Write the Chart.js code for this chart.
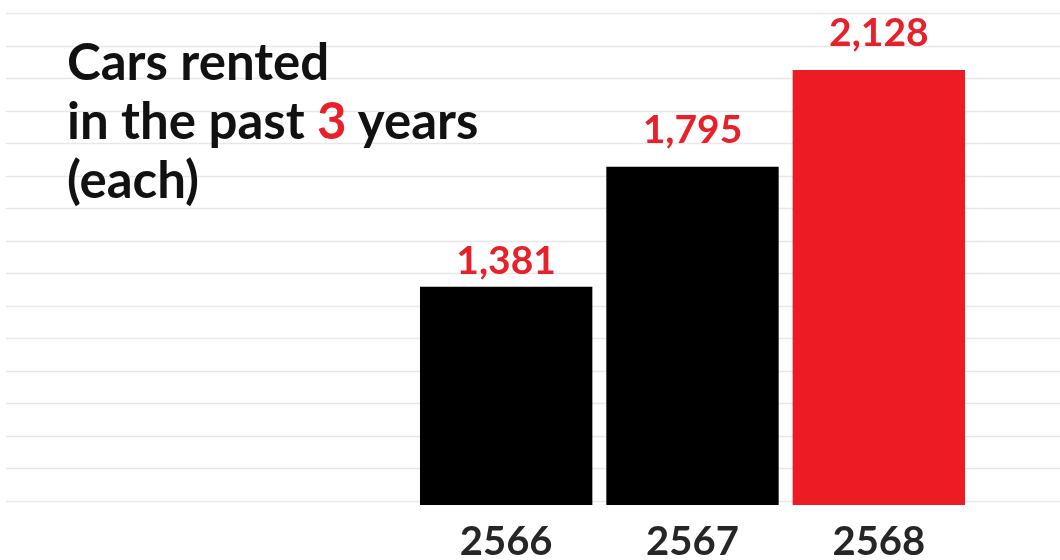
<!DOCTYPE html>
<html>
<head>
<meta charset="utf-8">
<script src="https://cdn.jsdelivr.net/npm/chart.js@4/dist/chart.umd.min.js"></script>
<style>
  html, body { margin: 0; padding: 0; background: #fff; }
  #wrap { position: relative; width: 1060px; height: 560px; }
  #titulo {
    position: absolute; left: 67px; top: 31px;
    font-family: Lato, sans-serif; font-weight: 700; font-size: 51px;
    line-height: 59px; color: #111; pointer-events: none;
  }
  #titulo .red { color: #e8202a; }
</style>
</head>
<body>
<div id="wrap">
  <canvas id="grafico" width="1060" height="560"></canvas>
  <div id="titulo">Cars rented<br>in the past <span class="red">3</span> years<br>(each)</div>
</div>
<script>
const anos = ['2566', '2567', '2568'];
const carros = [1381, 1795, 2128];
const coresBarras = ['#000000', '#000000', '#ed1c24'];
const linhasFundo = [0, 1, 2, 3, 4, 5, 6, 7, 8, 9, 10, 11, 12, 13, 14, 15];

const graficoEl = document.getElementById('grafico');

// linhas claras de fundo, de ponta a ponta da pagina
const linhasPlugin = {
  id: 'linhas',
  beforeDatasetsDraw(chart) {
    const ctx = chart.ctx;
    const escala = chart.scales.yGrade;
    ctx.save();
    ctx.strokeStyle = '#e8e8e8';
    ctx.lineWidth = 1.5;
    escala.ticks.forEach(t => {
      const y = Math.round(escala.getPixelForValue(t.value)) + 0.5;
      ctx.beginPath();
      ctx.moveTo(6, y);
      ctx.lineTo(chart.width, y);
      ctx.stroke();
    });
    ctx.restore();
  }
};

// numeros vermelhos em cima das barras
const rotulosPlugin = {
  id: 'rotulos',
  afterDatasetsDraw(chart) {
    const ctx = chart.ctx;
    const desloc = [13, 24, 24];
    ctx.save();
    ctx.font = 'bold 39px Lato';
    ctx.fillStyle = '#e8202a';
    ctx.textAlign = 'center';
    ctx.textBaseline = 'alphabetic';
    chart.getDatasetMeta(0).data.forEach((barra, i) => {
      ctx.fillText(carros[i].toLocaleString('en-US'), barra.x, barra.y - desloc[i]);
    });
    ctx.restore();
  }
};

new Chart(graficoEl, {
  type: 'bar',
  data: {
    labels: anos,
    datasets: [{
      data: carros,
      backgroundColor: coresBarras,
      categoryPercentage: 1,
      barPercentage: 0.925
    }]
  },
  options: {
    responsive: false,
    animation: false,
    layout: { padding: { left: 413, right: 88, top: 13, bottom: -19 } },
    plugins: {
      legend: { display: false },
      tooltip: { enabled: false }
    },
    scales: {
      x: {
        grid: { display: false, drawTicks: false },
        border: { display: false },
        ticks: {
          color: '#262626',
          padding: 17,
          font: { family: 'Lato', weight: 'bold', size: 40, lineHeight: 1 }
        }
      },
      y: {
        display: false,
        min: 628,
        max: 2325
      },
      yGrade: {
        display: false,
        min: -0.13,
        max: 15.01,
        ticks: { stepSize: 1 },
        afterBuildTicks(escala) {
          escala.ticks = linhasFundo.map(v => ({ value: v }));
        }
      }
    }
  },
  plugins: [linhasPlugin, rotulosPlugin]
});
</script>
</body>
</html>
